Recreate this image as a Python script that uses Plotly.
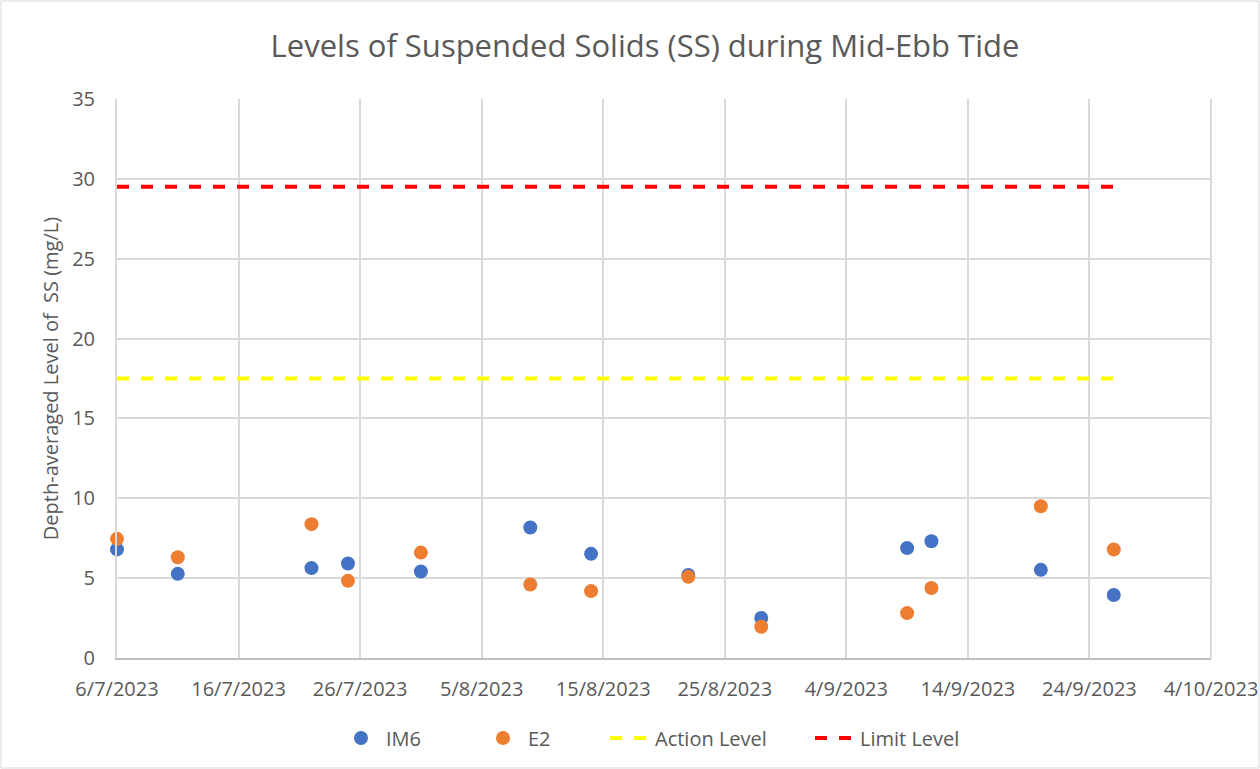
import plotly.graph_objects as go

im6_dates = ["2023-07-06", "2023-07-11", "2023-07-22", "2023-07-25", "2023-07-31",
             "2023-08-09", "2023-08-14", "2023-08-22", "2023-08-28",
             "2023-09-09", "2023-09-11", "2023-09-20", "2023-09-26"]
im6_values = [6.8, 5.27, 5.63, 5.92, 5.42, 8.17, 6.52, 5.2, 2.5, 6.88, 7.31, 5.52, 3.94]
e2_values = [7.46, 6.31, 8.38, 4.83, 6.6, 4.6, 4.19, 5.08, 1.96, 2.81, 4.38, 9.5, 6.79]
level_dates = ["2023-07-06", "2023-09-26"]
action_level = [17.5, 17.5]
limit_level = [29.5, 29.5]

font = "Open Sans"
grey = "#595959"
clear = "rgba(0,0,0,0)"

fig = go.Figure()
fig.add_trace(go.Scatter(x=im6_dates, y=im6_values, mode="markers", name="IM6",
                         marker=dict(color="#4472C4", size=14), cliponaxis=False,
                         legend="legend"))
fig.add_trace(go.Scatter(x=im6_dates, y=e2_values, mode="markers", name="E2",
                         marker=dict(color="#ED7D31", size=14), cliponaxis=False,
                         legend="legend2"))
fig.add_trace(go.Scatter(x=level_dates, y=action_level, mode="lines", name="Action Level",
                         line=dict(color="#FFFF00", width=4, dash="dash"),
                         legend="legend3"))
fig.add_trace(go.Scatter(x=level_dates, y=limit_level, mode="lines", name="Limit Level",
                         line=dict(color="#FF0000", width=4, dash="dash"),
                         legend="legend4"))

W0, PW, PH = 117, 1094, 559


def leg(px):
    return dict(orientation="h", x=(px - W0) / PW, xanchor="left", y=-80 / PH,
                yanchor="middle", font=dict(size=20, color=grey), itemwidth=40,
                bgcolor=clear)


fig.update_layout(
    width=1260, height=769,
    margin=dict(l=117, r=49, t=99, b=111),
    paper_bgcolor="white", plot_bgcolor="white",
    font=dict(family=font, color=grey, size=19),
    title=dict(text="Levels of Suspended Solids (SS) during Mid-Ebb Tide",
               x=645 / 1260, xanchor="center", y=0.94, yanchor="middle",
               font=dict(size=31, color=grey, family=font)),
    legend=leg(336),
    legend2=leg(478),
    legend3=leg(605),
    legend4=leg(810),
    showlegend=True,
)
fig.update_xaxes(
    type="date", range=["2023-07-06", "2023-10-04"], automargin=False,
    tick0="2023-07-06", dtick=10 * 24 * 3600 * 1000, tickformat="%-d/%-m/%Y",
    showgrid=True, gridcolor="#d9d9d9", gridwidth=2,
    showline=True, linecolor="#bfbfbf", linewidth=2,
    ticks="outside", tickcolor=clear, ticklen=12,
    mirror=False, zeroline=False, tickfont=dict(size=20, color=grey),
)
fig.update_yaxes(
    range=[0, 35], dtick=5, showgrid=True, gridcolor="#d9d9d9", gridwidth=2,
    showline=True, linecolor="#d9d9d9", linewidth=2, zeroline=False, automargin=False,
    tickfont=dict(size=20, color=grey), ticklen=16, ticks="outside", tickcolor=clear,
    title=dict(text="Depth-averaged Level of  SS (mg/L)", font=dict(size=20, color=grey),
               standoff=8),
)
fig.add_shape(type="line", xref="paper", yref="paper", x0=1, x1=1, y0=0, y1=1,
              line=dict(color="#d9d9d9", width=2))
fig.add_shape(type="rect", xref="paper", yref="paper",
              x0=-116 / 1094, x1=1 + 48 / 1094, y0=-110 / 559, y1=1 + 98 / 559,
              line=dict(color="#d9d9d9", width=1))

fig.write_html("out.html", config={"displayModeBar": False},
               post_script="document.body.style.margin='0';document.body.style.padding='0';")
